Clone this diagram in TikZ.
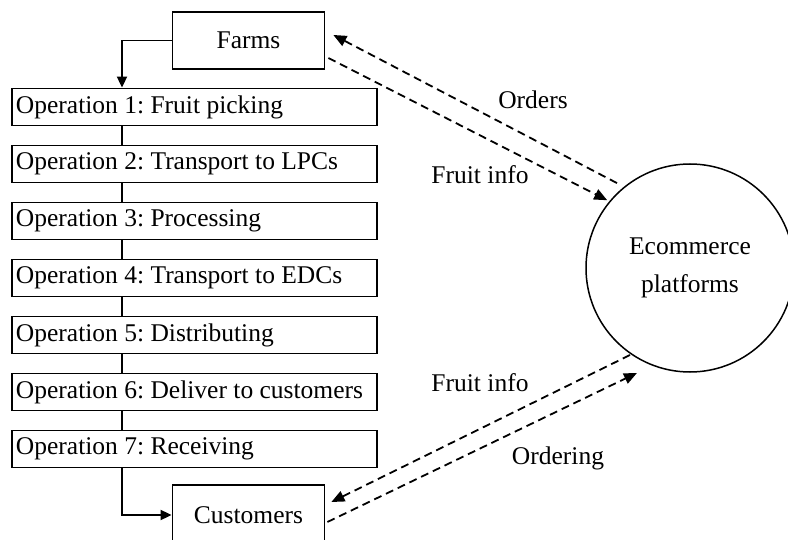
\documentclass[tikz,border=0pt]{standalone}
\usepackage{fontspec}
\setmainfont{Liberation Serif}
\usetikzlibrary{arrows.meta,calc}
\begin{document}
\frenchspacing
\begin{tikzpicture}[x=1pt,y=-1pt,
  every node/.style={font=\fontsize{25.5}{38}\selectfont},
  box/.style={draw,line width=1.8pt,inner sep=0pt},
  opbox/.style={box,minimum width=365pt,minimum height=37pt,inner xsep=4pt},
  endbox/.style={box,minimum width=152pt,minimum height=57pt},
  link/.style={line width=1.8pt},
  flow/.style={link,-{Triangle[length=11pt,width=10pt]}},
  dasharrow/.style={line width=1.8pt,dash pattern=on 8pt off 5pt,-{Triangle[length=13pt,width=11pt]}},
  lbl/.style={inner sep=0pt}]
\useasboundingbox (0,0) rectangle (788,540);
\fill[white] (0,0) rectangle (788,540);

\node[endbox] (farms) at (248.5,40.5) {Farms};
\node[endbox,minimum height=60pt] (cust) at (248.5,515) {Customers};

\node[opbox] (op1) at (194.5,107) {\makebox[357pt][l]{Operation 1: Fruit picking}};
\node[opbox] (op2) at (194.5,164) {\makebox[357pt][l]{Operation 2: Transport to LPCs}};
\node[opbox] (op3) at (194.5,221) {\makebox[357pt][l]{Operation 3: Processing}};
\node[opbox] (op4) at (194.5,278) {\makebox[357pt][l]{Operation 4: Transport to EDCs}};
\node[opbox] (op5) at (194.5,335) {\makebox[357pt][l]{Operation 5: Distributing}};
\node[opbox] (op6) at (194.5,392) {\makebox[357pt][l]{Operation 6: Deliver to customers}};
\node[opbox] (op7) at (194.5,449) {\makebox[357pt][l]{Operation 7: Receiving}};

\node[draw,circle,line width=1.5pt,minimum size=208pt,inner sep=0pt,align=center] (eco) at (690,268) {Ecommerce\\platforms};

\coordinate (spine) at (122,0);

\draw[flow] (farms.west) -| (spine |- op1.north);
\draw[link] (spine |- op1.south) -- (spine |- op2.north);
\draw[link] (spine |- op2.south) -- (spine |- op3.north);
\draw[link] (spine |- op3.south) -- (spine |- op4.north);
\draw[link] (spine |- op4.south) -- (spine |- op5.north);
\draw[link] (spine |- op5.south) -- (spine |- op6.north);
\draw[link] (spine |- op6.south) -- (spine |- op7.north);
\draw[flow] (spine |- op7.south) |- (cust.west);

\draw[dasharrow] ($(eco.center)+(130.7:112pt)$) -- ([xshift=8pt,yshift=5.5pt]farms.east);
\draw[dasharrow] ([xshift=3pt,yshift=-17.5pt]farms.east) -- ($(eco.center)+(140.7:107pt)$);
\draw[dasharrow] ($(eco.center)+(235.4:105.7pt)$) -- ([xshift=6pt,yshift=13pt]cust.east);
\draw[dasharrow] ([xshift=2pt,yshift=-7pt]cust.east) -- ($(eco.center)+(243.2:117.6pt)$);

\node[lbl] (orders) at (533,100) {Orders};
\node[lbl] (info1) at (480,175) {Fruit info};
\node[lbl] (info2) at (480,383) {Fruit info};
\node[lbl] (ordering) at (558,458) {Ordering};
\end{tikzpicture}
\end{document}
